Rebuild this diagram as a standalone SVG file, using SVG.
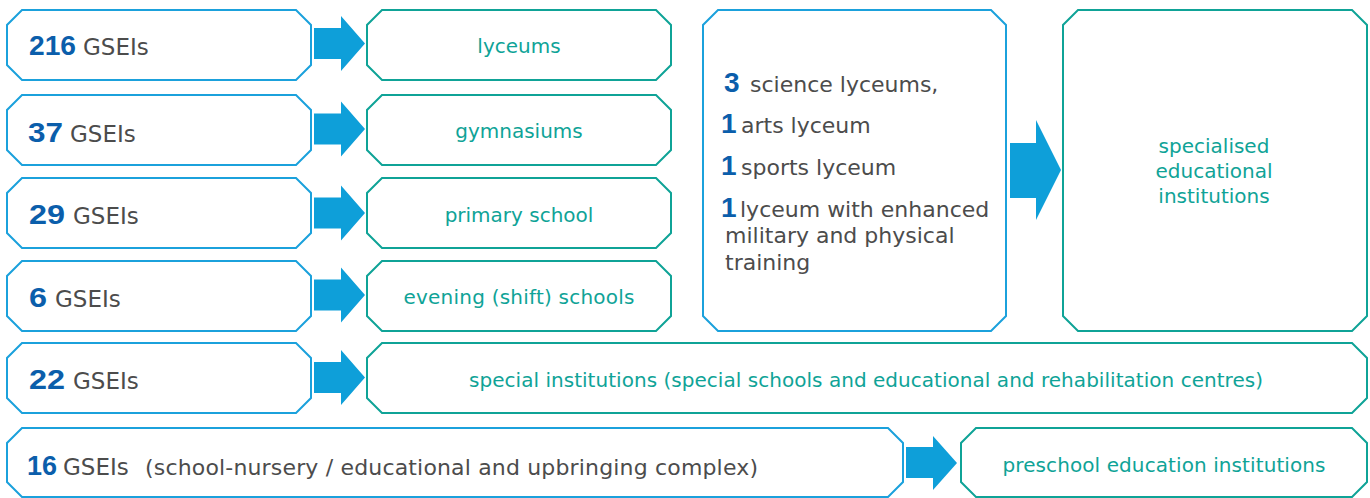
<svg xmlns="http://www.w3.org/2000/svg" width="1370" height="498" viewBox="0 0 1370 498">
<style>
.bb{fill:#fff;stroke:#1ba1dc;stroke-width:2}
.tb{fill:#fff;stroke:#0fa397;stroke-width:2}
.arr{fill:#0e9fd9}
.num{font-family:"Liberation Sans",Arial,sans-serif;font-weight:bold;font-size:28px;fill:#0b5eab}
.gr{font-family:"DejaVu Sans",sans-serif;font-size:22px;fill:#4c4c4c}
.gs{font-family:"DejaVu Sans",sans-serif;font-size:23px;fill:#4c4c4c}
.tl{font-family:"DejaVu Sans",sans-serif;font-size:20px;fill:#0fa397;text-anchor:middle}
</style>
<rect width="1370" height="498" fill="#fff"/>
<g id="connectors">
<polygon class="arr" points="314,28 341,28 341,16 365,43.5 341,71 341,59 314,59"/>
<polygon class="arr" points="314,113.5 341,113.5 341,101.5 365,129 341,156.5 341,144.5 314,144.5"/>
<polygon class="arr" points="314,197.5 341,197.5 341,185.5 365,213 341,240.5 341,228.5 314,228.5"/>
<polygon class="arr" points="314,279.5 341,279.5 341,267.5 365,295 341,322.5 341,310.5 314,310.5"/>
<polygon class="arr" points="314,362 341,362 341,350 365,377.5 341,405 341,393 314,393"/>
<polygon class="arr" points="906,447 933,447 933,436 957,463 933,490 933,478 906,478"/>
<polygon class="arr" points="1010,143 1036,143 1036,120 1061,170 1036,220 1036,198 1010,198"/>
</g>
<g id="n216">
<path class="bb" d="M22,10 H296 L311,25 V65 L296,80 H22 L7,65 V25 Z"/>
<text class="num" x="29" y="55" textLength="47" lengthAdjust="spacingAndGlyphs">216</text><text class="gs" x="83" y="55">GSEIs</text>
</g>
<g id="n37">
<path class="bb" d="M22,95 H296 L311,110 V150 L296,165 H22 L7,150 V110 Z"/>
<text class="num" x="28" y="142" textLength="35" lengthAdjust="spacingAndGlyphs">37</text><text class="gs" x="70" y="142">GSEIs</text>
</g>
<g id="n29">
<path class="bb" d="M22,178 H296 L311,193 V233 L296,248 H22 L7,233 V193 Z"/>
<text class="num" x="29" y="224" textLength="36" lengthAdjust="spacingAndGlyphs">29</text><text class="gs" x="73" y="224">GSEIs</text>
</g>
<g id="n6">
<path class="bb" d="M22,261 H296 L311,276 V316 L296,331 H22 L7,316 V276 Z"/>
<text class="num" x="29" y="307" textLength="18" lengthAdjust="spacingAndGlyphs">6</text><text class="gs" x="55" y="307">GSEIs</text>
</g>
<g id="n22">
<path class="bb" d="M22,343 H296 L311,358 V398 L296,413 H22 L7,398 V358 Z"/>
<text class="num" x="29" y="389" textLength="36" lengthAdjust="spacingAndGlyphs">22</text><text class="gs" x="73" y="389">GSEIs</text>
</g>
<g id="n16">
<path class="bb" d="M22,428 H888 L903,443 V482 L888,497 H22 L7,482 V443 Z"/>
<text class="num" x="27" y="475" textLength="30" lengthAdjust="spacingAndGlyphs">16</text><text class="gs" x="63" y="475">GSEIs</text>
<text class="gr" x="145" y="475" textLength="613" lengthAdjust="spacing">(school-nursery / educational and upbringing complex)</text>
</g>
<g id="lyceums">
<path class="tb" d="M382,10 H656 L671,25 V65 L656,80 H382 L367,65 V25 Z"/>
<text class="tl" x="519" y="53">lyceums</text>
</g>
<g id="gymnasiums">
<path class="tb" d="M382,95 H656 L671,110 V150 L656,165 H382 L367,150 V110 Z"/>
<text class="tl" x="519" y="138">gymnasiums</text>
</g>
<g id="primary">
<path class="tb" d="M382,178 H656 L671,193 V233 L656,248 H382 L367,233 V193 Z"/>
<text class="tl" x="519" y="222">primary school</text>
</g>
<g id="evening">
<path class="tb" d="M382,261 H656 L671,276 V316 L656,331 H382 L367,316 V276 Z"/>
<text class="tl" x="519" y="304" textLength="231" lengthAdjust="spacing">evening (shift) schools</text>
</g>
<g id="special">
<path class="tb" d="M382,343 H1352 L1367,358 V398 L1352,413 H382 L367,398 V358 Z"/>
<text class="tl" x="866" y="387" textLength="794" lengthAdjust="spacing">special institutions (special schools and educational and rehabilitation centres)</text>
</g>
<g id="preschool">
<path class="tb" d="M976,428 H1352 L1367,443 V482 L1352,497 H976 L961,482 V443 Z"/>
<text class="tl" x="1164" y="472" textLength="323" lengthAdjust="spacing">preschool education institutions</text>
</g>
<g id="lyceum-list">
<path class="bb" d="M718,10 H991 L1006,25 V316 L991,331 H718 L703,316 V25 Z"/>
<text class="num" x="724" y="92">3</text><text class="gr" x="750" y="92">science lyceums,</text>
<text class="num" x="721" y="133">1</text><text class="gr" x="741" y="133">arts lyceum</text>
<text class="num" x="721" y="175">1</text><text class="gr" x="741" y="175">sports lyceum</text>
<text class="num" x="721" y="217">1</text><text class="gr" x="740" y="217">lyceum with enhanced</text>
<text class="gr" x="725" y="243">military and physical</text>
<text class="gr" x="725" y="270">training</text>
</g>
<g id="specialised">
<path class="tb" d="M1078,10 H1352 L1367,25 V316 L1352,331 H1078 L1063,316 V25 Z"/>
<text class="tl" x="1214" y="153">specialised</text>
<text class="tl" x="1214" y="178">educational</text>
<text class="tl" x="1214" y="203">institutions</text>
</g>
</svg>
